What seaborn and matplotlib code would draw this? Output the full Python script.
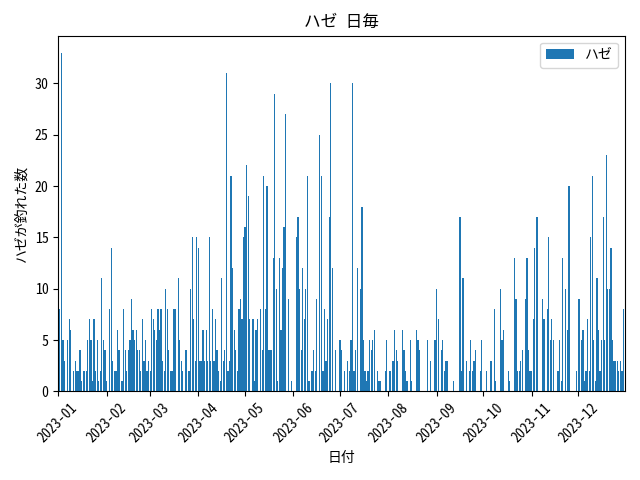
import seaborn as sns
import matplotlib.pyplot as plt
import matplotlib.dates as mdates
import pandas as pd

plt.rcParams['font.family'] = ['Noto Sans Mono CJK JP', 'DejaVu Sans Mono', 'Noto Sans CJK JP']

# 1日ごとのハゼの釣果 (2023年)
jan = [6, 8, 33, 5, 3, 0, 5, 7, 6, 0, 2, 3, 2, 2, 4, 1, 2, 2, 2, 5, 7, 5, 1, 7, 2, 5, 1, 2, 11, 5, 4]
feb = [1, 0, 8, 14, 3, 2, 2, 6, 4, 0, 1, 8, 4, 2, 4, 5, 9, 6, 5, 6, 4, 4, 2, 7, 3, 5, 2, 3]
mar = [2, 8, 7, 6, 5, 8, 6, 8, 3, 2, 10, 8, 4, 2, 2, 8, 8, 0, 11, 5, 3, 2, 0, 4, 0, 2, 10, 15, 7, 3, 15]
apr = [14, 3, 3, 6, 3, 6, 3, 15, 3, 8, 3, 7, 4, 2, 1, 11, 3, 4, 31, 2, 3, 21, 12, 6, 4, 2, 8, 9, 7, 15]
may = [16, 22, 19, 7, 0, 7, 1, 6, 7, 0, 8, 4, 21, 8, 20, 4, 4, 4, 13, 29, 10, 1, 13, 6, 12, 16, 27, 0, 9, 0, 1]
jun = [0, 0, 15, 17, 10, 4, 12, 7, 10, 21, 1, 0, 2, 4, 2, 9, 0, 25, 21, 2, 8, 3, 7, 17, 30, 12, 0, 4, 0, 0]
jul = [5, 4, 0, 2, 0, 3, 2, 5, 30, 2, 4, 12, 0, 10, 18, 5, 2, 1, 2, 5, 4, 5, 6, 0, 2, 1, 1, 0, 0, 2, 5]
aug = [0, 2, 0, 3, 6, 4, 3, 0, 0, 6, 4, 2, 1, 0, 5, 1, 0, 0, 6, 5, 4, 0, 0, 0, 0, 5, 0, 3, 0, 0, 5]
sep = [10, 7, 0, 4, 5, 2, 3, 3, 0, 0, 0, 1, 0, 0, 0, 17, 2, 11, 0, 3, 0, 2, 5, 2, 3, 4, 0, 0, 2, 5]
oct_ = [0, 0, 2, 0, 0, 3, 0, 8, 1, 0, 0, 10, 5, 6, 0, 0, 2, 1, 0, 0, 13, 9, 2, 2, 3, 4, 0, 9, 13, 4, 2]
nov = [2, 7, 14, 17, 17, 0, 0, 9, 7, 0, 8, 15, 5, 7, 5, 0, 0, 2, 5, 1, 13, 0, 10, 6, 20, 0, 0, 0, 0, 2]
dec = [9, 9, 5, 6, 1, 2, 7, 2, 15, 21, 5, 1, 11, 6, 2, 5, 17, 5, 23, 10, 10, 14, 5, 3, 3, 3, 2, 3, 2, 8, 0]

counts = jan + feb + mar + apr + may + jun + jul + aug + sep + oct_ + nov + dec
dates = pd.date_range("2023-01-01", periods=len(counts), freq="D")
df = pd.DataFrame({"日付": dates, "数": counts})

fig, ax = plt.subplots(figsize=(6.4, 4.8), dpi=100)
sns.histplot(data=df, x="日付", weights="数", discrete=True, shrink=0.8,
             color="#1f77b4", alpha=1, linewidth=0, label="ハゼ", ax=ax)

ax.set_xlim(pd.Timestamp("2023-01-01"), pd.Timestamp("2023-12-31"))
ax.xaxis.set_major_locator(mdates.MonthLocator())
ax.xaxis.set_major_formatter(mdates.DateFormatter("%Y-%m"))
plt.setp(ax.get_xticklabels(), rotation=45)
ax.set_title("ハゼ 日毎")
ax.set_xlabel("日付")
ax.set_ylabel("ハゼが釣れた数")
ax.legend(loc="upper right")
fig.tight_layout()
fig.savefig("out.png")
